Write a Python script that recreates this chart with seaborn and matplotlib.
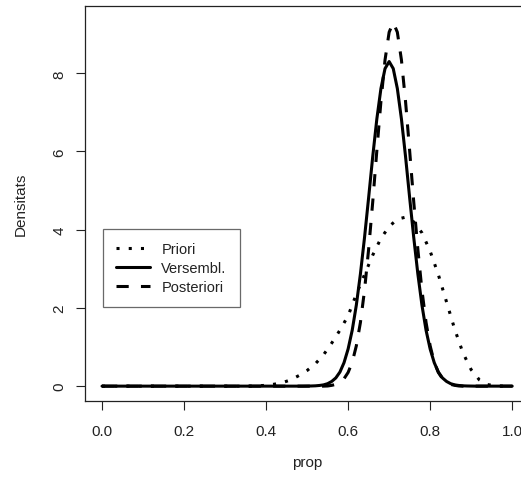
import matplotlib
matplotlib.use("Agg")
import matplotlib.pyplot as plt
import seaborn as sns

# ── data ────────────────────────────────────────────────
# priori (dotted)
prior_x = [0.00, 0.36, 0.38, 0.40, 0.42, 0.44, 0.46, 0.48, 0.50, 0.52, 0.54,
           0.56, 0.58, 0.60, 0.62, 0.64, 0.66, 0.68, 0.70, 0.72, 0.74, 0.76,
           0.78, 0.80, 0.82, 0.84, 0.86, 0.88, 0.90, 0.92, 0.94, 0.96, 0.98,
           1.00]
prior_y = [0.0, 0.0, 0.01, 0.02, 0.05, 0.09, 0.16, 0.27, 0.40, 0.57, 0.80,
           1.10, 1.43, 1.80, 2.35, 2.85, 3.35, 3.78, 4.08, 4.27, 4.32, 4.20,
           3.92, 3.45, 2.85, 2.15, 1.45, 0.85, 0.42, 0.16, 0.04, 0.005, 0.0,
           0.0]

# versemblança (solid)
lik_x = [0.00, 0.49, 0.50, 0.51, 0.52, 0.53, 0.54, 0.55, 0.56, 0.57, 0.58,
         0.59, 0.60, 0.61, 0.62, 0.63, 0.64, 0.65, 0.66, 0.67, 0.68, 0.69,
         0.70, 0.71, 0.72, 0.73, 0.74, 0.75, 0.76, 0.77, 0.78, 0.79, 0.80,
         0.81, 0.82, 0.83, 0.84, 0.85, 0.86, 0.87, 0.88, 0.89, 0.90, 0.91,
         1.00]
lik_y = [0.0, 0.0, 0.002, 0.004, 0.008, 0.017, 0.032, 0.063, 0.12, 0.21, 0.36,
         0.60, 0.95, 1.43, 2.07, 2.87, 3.80, 4.82, 5.87, 6.83, 7.61, 8.12,
         8.30, 8.12, 7.61, 6.83, 5.87, 4.82, 3.80, 2.87, 2.07, 1.43, 0.95,
         0.60, 0.36, 0.21, 0.12, 0.063, 0.032, 0.017, 0.008, 0.004, 0.002, 0.0,
         0.0]

# posteriori (dashed)
post_x = [0.00, 0.54, 0.55, 0.56, 0.57, 0.58, 0.59, 0.60, 0.61, 0.62, 0.63,
          0.64, 0.65, 0.66, 0.67, 0.68, 0.69, 0.70, 0.71, 0.72, 0.73, 0.74,
          0.75, 0.76, 0.77, 0.78, 0.79, 0.80, 0.81, 0.82, 0.83, 0.84, 0.85,
          0.86, 0.87, 0.88, 1.00]
post_y = [0.0, 0.0, 0.004, 0.020, 0.045, 0.094, 0.19, 0.35, 0.61, 1.03, 1.63,
          2.45, 3.50, 4.71, 6.02, 7.28, 8.34, 9.05, 9.30, 9.05, 8.34, 7.28,
          6.02, 4.71, 3.50, 2.45, 1.63, 1.03, 0.61, 0.35, 0.19, 0.094, 0.045,
          0.020, 0.004, 0.0, 0.0]

x_ticks = [0.0, 0.2, 0.4, 0.6, 0.8, 1.0]
y_ticks = [0, 2, 4, 6, 8]

# ── style ──────────────────────────────────────────────
sns.set_style("white")
plt.rcParams["font.family"] = ["Liberation Sans", "DejaVu Sans"]

fig = plt.figure(figsize=(5.21, 4.81), dpi=100)
# the reference is cropped on the right, so the box runs past the edge
ax = fig.add_axes([85 / 521, 79 / 481, 444 / 521, 395 / 481])

lw = 2.2
sns.lineplot(x=prior_x, y=prior_y, ax=ax, color="black", linewidth=lw,
             linestyle=(0, (1, 3)), label="Priori", sort=False)
sns.lineplot(x=lik_x, y=lik_y, ax=ax, color="black", linewidth=lw,
             linestyle="-", label="Versembl.", sort=False)
sns.lineplot(x=post_x, y=post_y, ax=ax, color="black", linewidth=lw,
             linestyle=(0, (4, 4)), label="Posteriori", sort=False)

ax.set_xlim(-0.0415, 1.041)
ax.set_ylim(-0.38, 9.72)
ax.set_xticks(x_ticks)
ax.set_xticklabels([f"{t:.1f}" for t in x_ticks])
ax.set_yticks(y_ticks)
ax.set_yticklabels([str(t) for t in y_ticks], rotation=90, va="center")

fs = 11
ax.tick_params(axis="both", direction="out", length=6.5, width=0.8,
               color="#222222", labelsize=fs, labelcolor="#222222",
               bottom=True, left=True)
ax.tick_params(axis="x", pad=10)
ax.tick_params(axis="y", pad=7)

for s in ax.spines.values():
    s.set_color("#222222")
    s.set_linewidth(0.9)
ax.spines["right"].set_visible(False)
ax.grid(False)

ax.set_xlabel("prop", fontsize=fs, color="#222222", labelpad=12)
ax.set_ylabel("Densitats", fontsize=fs, color="#222222", labelpad=18)

leg = ax.legend(loc="upper left", bbox_to_anchor=(0.0405, 0.435),
                fontsize=10.5, frameon=True, fancybox=False, handlelength=2.3,
                handletextpad=0.8, borderpad=0.9, labelspacing=0.32,
                borderaxespad=0)
leg.get_frame().set_edgecolor("#444444")
leg.get_frame().set_linewidth(0.9)
for t in leg.get_texts():
    t.set_color("#222222")

plt.savefig("out.png", dpi=100)
